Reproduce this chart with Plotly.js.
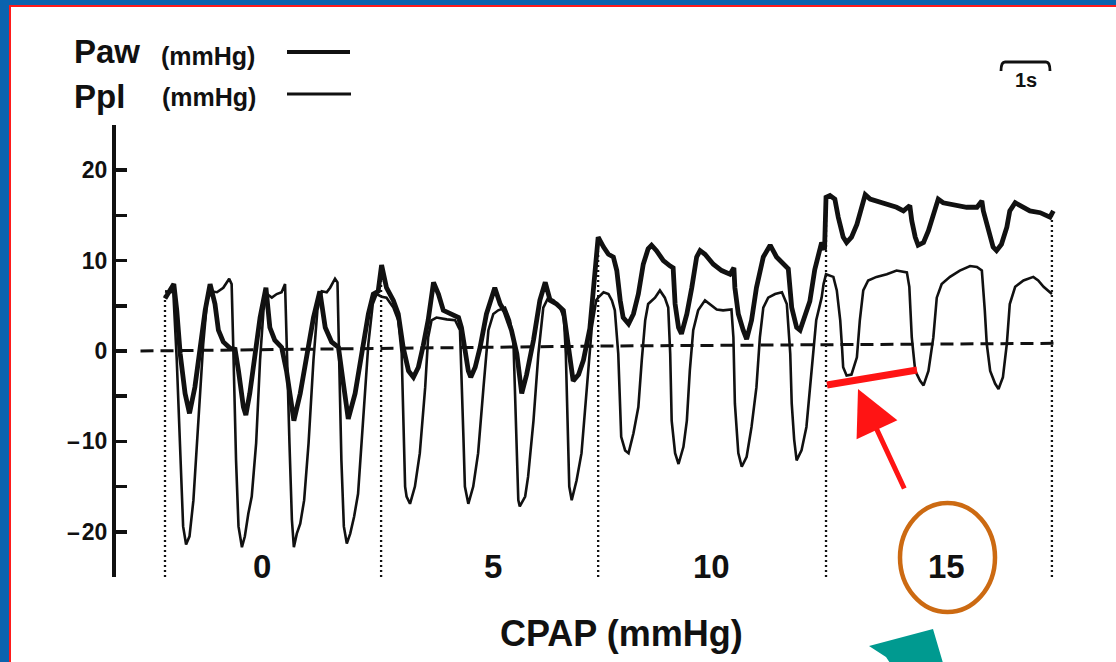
<!DOCTYPE html>
<html>
<head>
<meta charset="utf-8">
<script src="https://cdn.plot.ly/plotly-3.0.1.min.js"></script>
<style>
  html, body { margin: 0; padding: 0; overflow: hidden; background: #0b63ae; }
  #panel { position: absolute; left: 9px; top: 5px; right: 0; bottom: 0; background: #ffffff;
           border-left: 2px solid #ff1a1a; border-top: 2px solid #ff1a1a; }
  #chart { position: absolute; left: 0; top: 0; width: 1116px; height: 662px; }
</style>
</head>
<body>
<div id="panel"></div>
<div id="chart"></div>
<script>
// Airway pressure (Paw) and pleural pressure (Ppl) during spontaneous breathing
// at four CPAP levels. Time in seconds, pressures in mmHg.

const pawTime = [
  0.00, 0.10, 0.18, 0.24, 0.31, 0.41, 0.50, 0.61, 0.71, 0.82, 0.92, 1.02, 1.09, 1.19, 1.33, 1.43,
  1.50, 1.60, 1.65, 1.73, 1.84, 1.94, 2.06, 2.14, 2.24, 2.38, 2.48, 2.59, 2.63, 2.76, 2.89, 3.03,
  3.16, 3.27, 3.40, 3.54, 3.64, 3.74, 3.88, 4.01, 4.15, 4.25, 4.35,
  4.42, 4.52, 4.66, 4.76, 4.86, 4.97, 5.07, 5.17, 5.27, 5.37, 5.48, 5.58, 5.68, 5.82, 5.99, 6.05,
  6.12, 6.19, 6.24, 6.33, 6.43, 6.56, 6.73, 6.84, 6.94, 7.07, 7.18, 7.24, 7.28, 7.38, 7.52, 7.65,
  7.76, 7.86, 7.99, 8.13, 8.23, 8.30, 8.33, 8.44, 8.54, 8.67, 8.76,
  8.84, 8.95, 9.05, 9.15, 9.22, 9.29, 9.35, 9.46, 9.56, 9.66, 9.76, 9.86, 9.93, 10.03, 10.17, 10.31,
  10.37, 10.41, 10.48, 10.54, 10.65, 10.75, 10.85, 10.92, 11.02, 11.19, 11.36, 11.53, 11.61, 11.63,
  11.70, 11.80, 11.87, 11.97, 12.07, 12.21, 12.35, 12.48, 12.62, 12.72, 12.79, 12.89, 12.96, 13.06,
  13.16, 13.26, 13.36, 13.40, 13.46,
  13.49, 13.57, 13.67, 13.74, 13.84, 13.91, 14.01, 14.12, 14.22, 14.29, 14.39, 14.52, 14.73, 14.93,
  15.07, 15.20, 15.24, 15.31, 15.37, 15.48, 15.58, 15.68, 15.78, 15.88, 16.09, 16.36, 16.57, 16.67,
  16.70, 16.80, 16.90, 16.97, 17.07, 17.18, 17.24, 17.35, 17.45, 17.65, 17.86, 18.06, 18.13
];
const pawValue = [
  5.8, 6.6, 7.4, 4.5, -0.3, -4.7, -6.9, -4.0, 0.0, 4.5, 7.4, 5.2, 2.3, 1.0, 0.3, 0.2,
  -2.2, -6.2, -7.1, -4.7, -0.3, 3.7, 7.0, 2.6, 1.2, 0.4, -2.2, -6.2, -7.7, -4.7, -0.7, 3.7,
  6.6, 2.6, 1.0, 0.4, -3.6, -7.5, -4.7, -0.3, 4.1, 6.3, 6.6,
  9.5, 7.0, 5.6, 4.1, 0.4, -2.2, -2.9, -1.8, 0.6, 3.4, 7.6, 6.3, 4.5, 4.1, 3.7, 2.6,
  0.4, -2.2, -2.9, -1.8, 0.4, 4.1, 7.0, 5.2, 4.3, 2.3, -0.3, -3.3, -4.7, -2.6, 1.2, 5.6,
  7.6, 5.6, 5.2, 4.5, 0.4, -2.6, -3.3, -2.6, -1.0, 2.5, 7.5,
  12.6, 11.5, 10.7, 10.4, 8.9, 5.6, 3.7, 3.0, 4.1, 6.3, 9.6, 11.3, 11.7, 11.1, 10.0, 9.4,
  9.2, 5.2, 2.6, 1.9, 4.1, 7.0, 10.4, 11.1, 10.7, 9.6, 8.9, 8.5, 9.2, 7.0,
  4.1, 2.3, 1.3, 3.4, 7.0, 10.4, 11.7, 10.4, 9.6, 9.1, 4.8, 2.6, 2.3, 4.1,
  5.5, 9.0, 11.5, 12.0, 11.2,
  17.0, 17.2, 16.8, 14.8, 12.6, 12.0, 12.6, 14.0, 16.2, 17.3, 16.8, 16.6, 16.2, 15.9,
  15.5, 16.1, 14.4, 12.6, 11.7, 12.0, 13.3, 15.1, 16.8, 16.4, 16.2, 15.9, 15.9, 16.6,
  15.5, 13.3, 11.5, 11.1, 11.8, 13.7, 15.5, 16.4, 16.1, 15.5, 15.3, 14.8, 15.5
];

const pplTime = [
  0.00, 0.17, 0.24, 0.31, 0.37, 0.43, 0.50, 0.58, 0.68, 0.78, 0.86, 0.95, 1.06, 1.19, 1.31, 1.36,
  1.40, 1.45, 1.50, 1.57, 1.63, 1.70, 1.77, 1.86, 1.94, 2.01, 2.08, 2.18, 2.28, 2.38, 2.45, 2.48,
  2.54, 2.59, 2.63, 2.69, 2.76, 2.84, 2.93, 3.03, 3.11, 3.20, 3.30, 3.37, 3.47, 3.52, 3.56, 3.60,
  3.65, 3.71, 3.78, 3.86, 3.94, 4.05, 4.15, 4.24, 4.32,
  4.42, 4.52, 4.66, 4.76, 4.83, 4.86, 4.90, 4.93, 5.00, 5.10, 5.20, 5.31, 5.37, 5.44, 5.54, 5.75,
  5.92, 6.02, 6.05, 6.09, 6.12, 6.19, 6.29, 6.39, 6.50, 6.60, 6.70, 6.80, 6.94, 7.04, 7.11, 7.14,
  7.18, 7.21, 7.24, 7.35, 7.41, 7.52, 7.62, 7.72, 7.82, 7.93, 8.06, 8.14, 8.18, 8.21, 8.25, 8.30,
  8.40, 8.50, 8.61, 8.71, 8.80,
  8.84, 8.95, 9.05, 9.12, 9.18, 9.25, 9.29, 9.31, 9.39, 9.46, 9.56, 9.66, 9.73, 9.80, 9.86, 10.00,
  10.10, 10.20, 10.27, 10.31, 10.34, 10.41, 10.48, 10.58, 10.65, 10.71, 10.78, 10.88, 11.02, 11.12,
  11.26, 11.39, 11.56, 11.60, 11.63, 11.70, 11.77, 11.87, 11.97, 12.07, 12.14, 12.21, 12.31, 12.45,
  12.59, 12.69, 12.76, 12.79, 12.84, 12.89, 12.99, 13.09, 13.19, 13.29, 13.40, 13.44,
  13.49, 13.64, 13.71, 13.78, 13.82, 13.84, 13.91, 14.01, 14.12, 14.18, 14.25, 14.35, 14.52, 14.73,
  14.93, 15.14, 15.19, 15.24, 15.31, 15.41, 15.48, 15.58, 15.68, 15.75, 15.85, 16.02, 16.22, 16.43,
  16.57, 16.67, 16.73, 16.77, 16.84, 16.94, 17.01, 17.10, 17.18, 17.24, 17.35, 17.52, 17.72, 17.82,
  17.93, 18.10
];
const pplValue = [
  6.6, 6.5, -1.0, -10.2, -19.4, -21.4, -20.5, -16.5, -8.4, 0.8, 5.6, 6.6, 6.5, 7.0, 8.0, 7.4,
  -1.0, -12.1, -19.4, -21.7, -20.5, -18.0, -16.1, -10.2, -1.0, 4.5, 6.3, 5.9, 6.3, 6.5, 7.4, 0.8,
  -10.2, -18.7, -21.7, -20.2, -19.1, -16.5, -10.2, -1.0, 4.5, 6.6, 6.5, 7.0, 8.0, 7.6, -1.0, -12.1,
  -19.4, -21.3, -20.2, -18.3, -15.8, -6.6, 0.8, 5.2, 6.3,
  6.0, 5.9, 4.8, 3.4, -0.3, -7.7, -15.0, -16.1, -16.9, -15.0, -11.3, -4.0, 1.5, 3.4, 3.7, 3.5,
  3.4, 2.3, -2.2, -9.5, -15.0, -16.9, -15.0, -11.3, -4.0, 2.3, 4.1, 4.5, 4.8, 3.4, 1.2, -4.0,
  -11.3, -16.5, -17.2, -16.1, -13.9, -7.7, -0.3, 4.8, 5.9, 5.6, 4.8, 3.7, -0.3, -7.7, -15.0, -16.5,
  -14.3, -11.3, -4.0, 2.6, 5.6,
  5.9, 6.5, 6.3, 5.6, 4.5, -0.3, -5.8, -9.5, -11.0, -11.3, -9.1, -6.2, -1.0, 3.4, 5.2, 5.9,
  6.7, 5.9, 4.8, -0.3, -7.7, -11.3, -12.5, -10.6, -7.7, -2.2, 2.3, 4.5, 5.6, 5.2,
  4.6, 4.5, 4.6, 1.5, -5.8, -11.3, -12.8, -11.7, -8.4, -4.0, 1.5, 4.8, 5.9, 6.3,
  6.5, 5.2, -0.3, -5.8, -9.8, -12.1, -11.0, -8.4, -2.2, 3.4, 5.9, 7.4,
  8.5, 8.2, 6.7, 3.4, 0.1, -1.8, -2.7, -2.6, -0.7, 3.4, 6.7, 7.8, 8.2, 8.5,
  8.9, 8.7, 7.1, 1.5, -2.2, -3.3, -3.8, -2.2, 1.5, 5.9, 7.4, 8.2, 8.9, 9.4,
  9.3, 8.9, 4.5, 0.8, -2.2, -3.6, -4.2, -2.9, 0.8, 5.2, 7.1, 7.8, 8.2, 7.8,
  7.1, 6.3
];

// Zero-pressure reference line (slightly drifting recorder baseline)
const baselineTime = [-0.5, 9.0, 18.2];
const baselineValue = [0.0, 0.55, 0.85];

// Start/end markers of each CPAP period and the height each marker reaches
const markerTimes = [0.0, 4.41, 8.84, 13.49, 18.10];
const markerTops = [6.3, 8.5, 11.0, 17.0, 15.3];

// CPAP levels and the centre time of each period
const cpapLevels = ['0', '5', '10', '15'];
const cpapCentres = [1.98, 6.69, 11.16, 15.94];

// Y axis ticks
const yTickVals = [-25, -20, -15, -10, -5, 0, 5, 10, 15, 20, 25];
const yTickText = ['', '\u2013\u200a20', '', '\u2013\u200a10', '', '0', '', '10', '', '20', ''];

// ----- figure geometry (pixels) -----
const FIG_W = 1116, FIG_H = 662;
const M = { l: 116, r: 46, t: 125, b: 85 };
const PW = FIG_W - M.l - M.r, PH = FIG_H - M.t - M.b;
const px = x => (x - M.l) / PW;
const py = y => (FIG_H - M.b - y) / PH;

const ink = '#111111';
const FONT = 'Liberation Sans, Arial, Helvetica, sans-serif';

const traces = [];

traces.push({
  x: baselineTime, y: baselineValue, mode: 'lines', hoverinfo: 'skip',
  line: { color: ink, width: 3, dash: '13px,7px' }, showlegend: false
});

markerTimes.forEach((t, i) => {
  traces.push({
    x: [t, t], y: [-25, markerTops[i]], mode: 'lines', hoverinfo: 'skip',
    line: { color: ink, width: 2.3, dash: '2px,3px' }, showlegend: false
  });
});

traces.push({
  x: pplTime, y: pplValue, mode: 'lines', name: 'Ppl',
  line: { color: ink, width: 2.6 }, showlegend: false
});
traces.push({
  x: pawTime, y: pawValue, mode: 'lines', name: 'Paw',
  line: { color: ink, width: 4.8 }, showlegend: false
});

const annotations = [];
const txt = (x, y, text, size, xa, ya, extra) => Object.assign({
  xref: 'paper', yref: 'paper', x: px(x), y: py(y), text: text, showarrow: false,
  xanchor: xa || 'center', yanchor: ya || 'middle',
  font: { family: FONT, size: size, color: ink, weight: 700 }
}, extra || {});

// legend block
annotations.push(txt(72, 52, 'Paw', 33, 'left'));
annotations.push(txt(159, 56, '(mmHg)', 25, 'left'));
annotations.push(txt(72, 97, 'Ppl', 33, 'left'));
annotations.push(txt(160, 97, '(mmHg)', 25, 'left'));
// time scale label
annotations.push(txt(1026, 80, '1s', 20));
// CPAP level labels under each period
cpapLevels.forEach((lab, i) => {
  annotations.push({
    xref: 'x', yref: 'paper', x: cpapCentres[i], y: py(566), text: lab, showarrow: false,
    xanchor: 'center', yanchor: 'middle',
    font: { family: FONT, size: 33, color: ink, weight: 700 }
  });
});
annotations.push(txt(621, 633, 'CPAP (mmHg)', 36));
// arrow pointing at the end-inspiratory Ppl level
annotations.push({
  xref: 'paper', yref: 'paper', x: px(858), y: py(389), text: '',
  showarrow: true, arrowhead: 2, arrowsize: 1.8, arrowwidth: 5, arrowcolor: '#ff1414',
  ax: 47, ay: 101
});

const shapes = [
  // legend line samples
  { type: 'line', xref: 'paper', yref: 'paper', x0: px(287), x1: px(350), y0: py(52), y1: py(52),
    line: { color: ink, width: 4 } },
  { type: 'line', xref: 'paper', yref: 'paper', x0: px(287), x1: px(351), y0: py(94), y1: py(94),
    line: { color: ink, width: 3 } },
  // one-second scale bar
  { type: 'path', xref: 'paper', yref: 'paper',
    path: `M ${px(1001)} ${py(71)} Q ${px(1001)} ${py(62)} ${px(1005)} ${py(62)} L ${px(1046)} ${py(62)} Q ${px(1050)} ${py(62)} ${px(1050)} ${py(71)}`,
    line: { color: ink, width: 2.8 } },
  // red level line
  { type: 'line', xref: 'paper', yref: 'paper', x0: px(827), x1: px(917), y0: py(385), y1: py(370),
    line: { color: '#ff1414', width: 7 } },
  // orange ring around the 15 label
  { type: 'circle', xref: 'paper', yref: 'paper', x0: px(900), x1: px(995), y0: py(612), y1: py(503),
    line: { color: '#cc6a12', width: 4.5 } },
  // teal pointer at the bottom
  { type: 'path', xref: 'paper', yref: 'paper',
    path: `M ${px(869)} ${py(646)} L ${px(933)} ${py(629)} L ${px(943)} ${py(663)} L ${px(890)} ${py(663)} L ${px(886)} ${py(657)} Z`,
    fillcolor: '#009a90', line: { width: 0 } }
];

const layout = {
  width: FIG_W, height: FIG_H,
  margin: M,
  paper_bgcolor: 'rgba(0,0,0,0)', plot_bgcolor: 'rgba(0,0,0,0)',
  showlegend: false, hovermode: false,
  xaxis: { range: [-1, 18.469], visible: false, fixedrange: true },
  yaxis: {
    range: [-25, 25], showgrid: false, zeroline: false, fixedrange: true,
    showline: true, linecolor: ink, linewidth: 4,
    ticks: 'inside', ticklen: 11, tickwidth: 3.5, tickcolor: ink,
    tickmode: 'array', tickvals: yTickVals, ticktext: yTickText,
    tickfont: { family: FONT, size: 23, color: ink, weight: 700 }
  },
  annotations: annotations,
  shapes: shapes
};

Plotly.newPlot('chart', traces, layout, { displayModeBar: false, staticPlot: true });
</script>
</body>
</html>
